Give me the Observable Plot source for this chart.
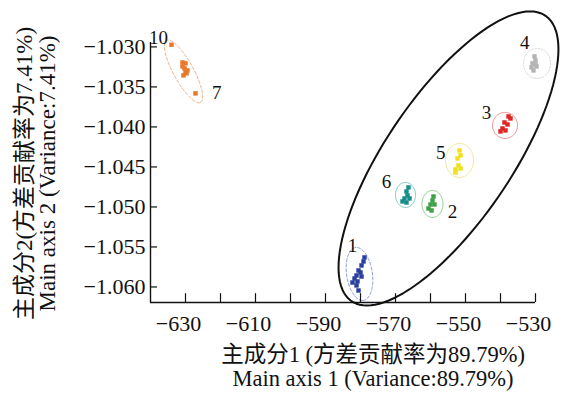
<!DOCTYPE html>
<html><head><meta charset="utf-8">
<script src="https://cdn.jsdelivr.net/npm/d3@7"></script>
<script src="https://cdn.jsdelivr.net/npm/@observablehq/plot@0.6"></script>
<style>body{margin:0;background:#fff} svg{display:block}</style>
</head><body><div id="chart"></div>
<script>
// ---- data ----
const groupNames = ["10-7", "1", "6", "2", "5", "3", "4"];
const groupColors = ["#e8782a", "#2b3fa0", "#168c8c", "#3ea048", "#f0e01a", "#e02424", "#b4b4b4"];

const pts10 = [[-634.0,-1.02973],[-630.86,-1.03194],[-630.0,-1.03206],[-630.86,-1.03244],[-630.29,-1.03269],[-629.43,-1.03294],[-630.0,-1.03319],[-630.57,-1.03356],[-629.71,-1.03331],[-627.14,-1.03581]];
const pts1 = [[-578.86,-1.05631],[-579.14,-1.05681],[-579.71,-1.05731],[-580.57,-1.05794],[-580.0,-1.05819],[-581.14,-1.05856],[-579.71,-1.05869],[-581.71,-1.05894],[-580.86,-1.05931],[-582.29,-1.05944],[-581.14,-1.05981],[-580.57,-1.06044]];
const pts6 = [[-566.29,-1.04756],[-566.86,-1.04806],[-566.57,-1.04856],[-567.43,-1.04894],[-566.0,-1.04894],[-568.0,-1.04931],[-566.86,-1.04944]];
const pts2 = [[-559.14,-1.04869],[-559.43,-1.04919],[-560.0,-1.04969],[-558.86,-1.04969],[-560.57,-1.05019],[-559.71,-1.05044]];
const pts5 = [[-551.71,-1.04294],[-551.43,-1.04356],[-552.29,-1.04394],[-552.0,-1.04481],[-552.86,-1.04531],[-551.43,-1.04519],[-552.86,-1.04569]];
const pts3 = [[-537.71,-1.03869],[-537.14,-1.03894],[-538.86,-1.03944],[-538.0,-1.03969],[-539.43,-1.04019],[-538.57,-1.04044],[-540.0,-1.04056]];
const pts4 = [[-530.29,-1.03119],[-530.0,-1.03169],[-530.86,-1.03206],[-530.0,-1.03219],[-531.14,-1.03256],[-530.57,-1.03294],[-529.71,-1.03244]];
const groupPoints = [pts10, pts1, pts6, pts2, pts5, pts3, pts4];

// sample number labels
const labelText = ["10", "7", "1", "6", "2", "5", "3", "4"];
const labelX = [-637.7, -621.1, -582.3, -572.6, -553.7, -557.1, -544.0, -533.1];
const labelY = [-1.02889, -1.03581, -1.05481, -1.04681, -1.05056, -1.04319, -1.03831, -1.02944];

// confidence ellipses (data units): centre, two conjugate half-axis vectors
const ellipseId = ["10-7", "1", "6", "2", "5", "3", "4", "all"];
const ellipseCx = [-630.57, -580.29, -567.14, -559.43, -551.71, -538.71, -529.57, -554.86];
const ellipseCy = [-1.03306, -1.058375, -1.0485, -1.049625, -1.0441875, -1.0398125, -1.0320625, -1.043938];
const ellipseUx = [4.857, 0.857, 0, 0, 0, 0, 0, -23.31];
const ellipseUy = [-0.003875, -0.0033125, -0.0015625, -0.0016875, -0.002125, -0.001625, -0.001875, -0.018375];
const ellipseVx = [2.514, 3.714, 2.857, 3.0, 4.0, 3.571, 3.857, 21.06];
const ellipseVy = [0.0006, 0, 0, 0, 0, 0, 0, 0];

// axes
const xDomain = [-640, -530];
const yDomain = [-1.06194, -1.02945];
const xTickVals = [-630, -620, -610, -600, -590, -580, -570, -560, -550, -540, -530];
const xLabelVals = [-630, -610, -590, -570, -550, -530];
const yTickVals = [-1.030, -1.035, -1.040, -1.045, -1.050, -1.055, -1.060];
const xTitle = "主成分1 (方差贡献率为89.79%)\nMain axis 1 (Variance:89.79%)";
const yTitle = "主成分2(方差贡献率为7.41%)\nMain axis 2 (Variance:7.41%)";

// ---- build ----
const points = groupNames.flatMap((g, i) => groupPoints[i].map(([x, y]) => ({x, y, g})));
const labels = labelText.map((t, i) => ({t, x: labelX[i], y: labelY[i]}));
function outline(i, n = 120) {
  return d3.range(n).map(k => {
    const a = 2 * Math.PI * k / n;
    return {x: ellipseCx[i] + Math.cos(a) * ellipseUx[i] + Math.sin(a) * ellipseVx[i],
            y: ellipseCy[i] + Math.cos(a) * ellipseUy[i] + Math.sin(a) * ellipseVy[i]};
  });
}
const ellStyle = {
  "10-7": {stroke: "#f0b088", strokeDasharray: "3,2", strokeWidth: 1},
  "1": {stroke: "#8a9ad0", strokeDasharray: "3,2", strokeWidth: 1},
  "6": {stroke: "#78c4c4", strokeWidth: 1},
  "2": {stroke: "#8ccc8c", strokeWidth: 1},
  "5": {stroke: "#f0e690", strokeWidth: 1},
  "3": {stroke: "#ee8888", strokeWidth: 1},
  "4": {stroke: "#d8d8d8", strokeDasharray: "1.5,1.5", strokeWidth: 1},
  "all": {stroke: "#111", strokeWidth: 2}
};
const ellipseMarks = ellipseId.map((id, i) => Plot.line(outline(i), {x: "x", y: "y", curve: "linear-closed", ...ellStyle[id]}));

const xMin = xDomain[0], yMin = yDomain[0];
const plot = Plot.plot({
  width: 568, height: 394,
  marginLeft: 150, marginRight: 33, marginTop: 42, marginBottom: 92,
  style: {fontFamily: "'Liberation Serif', 'Noto Sans CJK SC', serif", fontSize: "22px", color: "#111", background: "#fff"},
  x: {domain: xDomain},
  y: {domain: yDomain},
  color: {domain: groupNames, range: groupColors},
  marks: [
    ...ellipseMarks,
    Plot.dot(points, {x: "x", y: "y", fill: "g", symbol: "square", r: 2.5}),
    Plot.ruleX([xMin], {stroke: "#111", strokeWidth: 1.4}),
    Plot.ruleY([yMin], {stroke: "#111", strokeWidth: 1.4}),
    Plot.ruleX(xTickVals, {x: d => d, y1: () => yMin, y2: () => yMin + 0.0011, stroke: "#111", strokeWidth: 1.2}),
    Plot.ruleY(yTickVals, {y: d => d, x1: () => xMin, x2: () => xMin + 2, stroke: "#111", strokeWidth: 1.2}),
    Plot.axisX({ticks: xLabelVals, tickSize: 0, tickPadding: 13, label: null, dx: -7, fontSize: 22}),
    Plot.axisY({ticks: yTickVals, tickSize: 0, tickPadding: 5, label: null, tickFormat: d3.format(".3f"), fontSize: 22}),
    Plot.text([xTitle], {text: d => d, frameAnchor: "bottom", lineAnchor: "top", dy: 43, dx: 30, fontSize: 22.5, lineHeight: 1.06}),
    Plot.text([yTitle], {text: d => d, frameAnchor: "left", textAnchor: "middle", rotate: -90, lineAnchor: "middle", dx: -114, dy: 1, fontSize: 23, lineHeight: 1.0}),
    Plot.text(labels, {x: "x", y: "y", text: "t", fontSize: 19})
  ]
});
document.getElementById("chart").append(plot);
</script>
</body></html>
